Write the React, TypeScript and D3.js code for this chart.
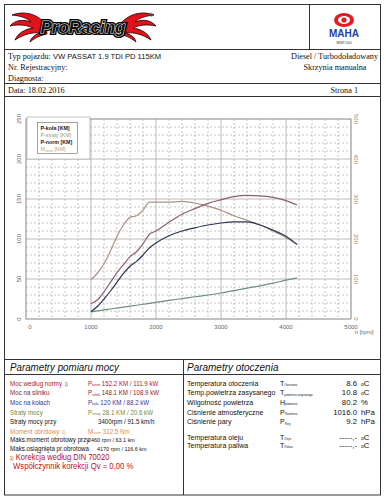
import * as d3 from "d3";

// rpm sample points and curves
const rpm = [1000, 1100, 1200, 1300, 1400, 1500, 1600, 1700, 1800, 1900, 2000, 2200, 2400, 2600, 2800, 3000, 3200, 3400, 3600, 3800, 4000, 4170];
const pKola = [9, 16, 25, 35, 46, 57, 66, 72, 80, 89, 95, 104, 110, 114, 117.5, 120, 121.5, 121.5, 117.5, 111, 103.5, 93];
const pStraty = [9, 10.2, 11.4, 12.5, 13.7, 14.9, 16, 17.2, 18.4, 19.6, 20.8, 23.2, 25.5, 27.8, 30, 32.5, 35.5, 38.5, 41.5, 44.8, 48.5, 51.5];
const pNorm = [19, 24, 34, 46, 58, 68, 78, 84, 94, 106, 110, 121, 131, 138, 144.5, 149, 153, 154.5, 154, 152, 148, 142.5];
const mNorm = [98, 115, 138, 170, 207, 235, 254, 258, 272, 292, 292, 292, 294, 290, 282, 272, 258, 247, 235, 220, 204, 187];

const xTicks = [0, 1000, 2000, 3000, 4000, 5000];
const yLeftTicks = [0, 50, 100, 150, 200, 250];
const yRightTicks = [0, 100, 200, 300, 400, 500];

const legendItems = [
  { label: "P-koła [KM]", color: "#222", bold: true },
  { label: "P-straty [KM]", color: "#8d9c78", bold: false },
  { label: "P-norm [KM]", color: "#222", bold: true },
  { label: "M", sub: "norm", tail: " [NM]", color: "#c2a47c", bold: false },
];

const powerRows = [
  { label: "Moc według normy", note: true, sym: "P", sub: "norm", value: "152.2 KM  /  111.9 kW", color: "#b7151f" },
  { label: "Moc na silniku", sym: "P", sub: "silnik", value: "148.1 KM  /  108.9 kW", color: "#8c1c2e" },
  { label: "Moc na kołach", sym: "P", sub: "koła", value: "120 KM  /  88.2 kW", color: "#2a3a96" },
  { label: "Straty mocy", sym: "P", sub: "straty", value: "28.1 KM  /  20.6 kW", color: "#6f8a3a" },
  { label: "Straty mocy przy", value: "3400rpm /  91.5 km/h", color: "#111", vx: 98 },
  { label: "Moment obrotowy", note: true, sym: "M", sub: "norm", value: "312.5 Nm", color: "#dd8c50" },
  { label: "Maks.moment obrotowy przy", value: "2460 rpm / 63.1 km", color: "#111", vx: 88, small: true },
  { label: "Maks.osiągnięta pr.obrotowa", value: "4170 rpm / 116.6 km", color: "#111", vx: 97, small: true },
];

const ambientRows = [
  { label: "Temperatura otoczenia", sym: "T", sub: "Otoczenia", value: "8.6", unit: "oC" },
  { label: "Temp.powietrza zasysanego", sym: "T", sub: "powietrza zasysanego", value: "10.8", unit: "oC" },
  { label: "Wilgotność powietrza", sym: "H", sub: "powietrza", value: "80.2", unit: "%" },
  { label: "Ciśnienie atmosferyczne", sym: "P", sub: "Powietrza", value: "1016.0", unit: "hPa" },
  { label: "Ciśnienie pary", sym: "P", sub: "Pary", value: "9.2", unit: "hPa" },
  { label: "Temperatura oleju", sym: "T", sub: "Oleju", value: "-----,-", unit: "oC" },
  { label: "Temperatura paliwa", sym: "T", sub: "Paliwa", value: "-----,-", unit: "oC" },
];

const SANS = "'Liberation Sans', Arial, sans-serif";
const SERIF = "'Liberation Serif', 'DejaVu Serif', serif";

const W = 386;
const H = 500;

const x = d3.scaleLinear().domain([0, 5000]).range([26, 351]);
const yL = d3.scaleLinear().domain([0, 250]).range([319, 119]);
const yR = d3.scaleLinear().domain([0, 500]).range([319, 119]);

// narrow text, the sheet uses a condensed office font
function NText({ x, y, sx = 0.84, children, ...rest }: any) {
  return (
    <text transform={`translate(${x},${y}) scale(${sx},1)`} {...rest}>
      {children}
    </text>
  );
}

function Flames() {
  const d =
    "M46,24 C38,15 26,10 12,15 C21,16 27,18 31,22 C23,19 15,20 10,26 C19,24 27,25 33,28 C25,29 18,33 15,40 C24,34 33,32 40,33 C34,35 31,38 30,42 C36,37 42,35 47,34 Z";
  return (
    <g>
      <path d={d} fill="#e3121a" stroke="#1a0000" strokeWidth={0.8} />
      <path d={d} fill="#e3121a" stroke="#1a0000" strokeWidth={0.8} transform="translate(166,0) scale(-1,1)" />
    </g>
  );
}

export default function App() {
  const mkLine = (vals: number[], scale: d3.ScaleLinear<number, number>) =>
    d3
      .line<number>()
      .x((_, i) => x(rpm[i]))
      .y((v) => scale(v))
      .curve(d3.curveMonotoneX)(vals) ?? "";

  const minorX = d3.range(0, 5001, 200);
  const minorY = d3.range(0, 251, 10);

  const rowY = [385.5, 395, 404.5, 414.5, 424, 433.5, 442, 450.5];
  const ambY = [385.5, 395, 404.5, 414.5, 424, 439.5, 447.5];

  return (
    <svg width={W} height={H} style={{ position: "absolute", left: 0, top: 0, background: "#fff" }} fontFamily={SANS}>
      <rect width={W} height={H} fill="#fff" />

      {/* page frame */}
      <g stroke="#333" strokeWidth={1} fill="none">
        <rect x={4.5} y={4.5} width={376} height={490.5} />
        <line x1={4.5} x2={380.5} y1={49.5} y2={49.5} />
        <line x1={309.5} x2={309.5} y1={4.5} y2={49.5} />
        <line x1={4.5} x2={380.5} y1={83.5} y2={83.5} />
        <line x1={4.5} x2={380.5} y1={96.5} y2={96.5} />
        <line x1={4.5} x2={380.5} y1={359.5} y2={359.5} />
        <line x1={4.5} x2={380.5} y1={374.5} y2={374.5} />
        <line x1={183.5} x2={183.5} y1={359.5} y2={495} />
      </g>

      {/* logos */}
      <Flames />
      <text x={83} y={33} textAnchor="middle" fontFamily={SANS} fontWeight="bold" fontStyle="italic" fontSize={17}
        stroke="#000" strokeWidth={4} fill="#000">ProRacing</text>
      <text x={83} y={33} textAnchor="middle" fontFamily={SANS} fontWeight="bold" fontStyle="italic" fontSize={17}
        stroke="#fff" strokeWidth={1} fill="#111" style={{ paintOrder: "stroke" }}>ProRacing</text>
      <text x={149} y={17} fontSize={6} fill="#555">®</text>

      <ellipse cx={344} cy={20} rx={10} ry={7} fill="#e31b23" />
      <ellipse cx={344} cy={20} rx={6} ry={4} fill="#fff" />
      <circle cx={344} cy={20} r={2.6} fill="#e31b23" />
      <text x={344} y={37} textAnchor="middle" fontWeight="bold" fontSize={10} fill="#1f3fa5">MAHA</text>
      <text x={344} y={44} textAnchor="middle" fontSize={3.6} fill="#333">MSR 500</text>

      {/* header info */}
      <g fontFamily={SERIF} fontSize={8.2} fill="#111">
        <text x={8} y={59}>Typ pojazdu:  <tspan fontFamily={SANS} fontSize={7.6}>VW PASSAT 1.9 TDI PD 115KM</tspan></text>
        <text x={8} y={70}>Nr. Rejestracyjny:</text>
        <text x={8} y={80.5}>Diagnosta:</text>
        <text x={378} y={59} textAnchor="end">Diesel / Turbodoładowany</text>
        <text x={335} y={70} textAnchor="middle">Skrzynia manualna</text>
        <text x={8} y={93}>Data: 18.02.2016</text>
        <text x={358} y={93} textAnchor="end">Strona 1</text>
      </g>

      {/* grid */}
      <g>
        {minorX.filter((v) => v % 1000 !== 0).map((v) => (
          <line key={"mx" + v} x1={x(v)} x2={x(v)} y1={yL(250)} y2={yL(0)} stroke="#9a9a9a" strokeWidth={0.6} strokeDasharray="2,2" />
        ))}
        {minorY.filter((v) => v % 50 !== 0).map((v) => (
          <line key={"my" + v} x1={x(0)} x2={x(5000)} y1={yL(v)} y2={yL(v)} stroke="#9a9a9a" strokeWidth={0.6} strokeDasharray="2,2" />
        ))}
        {xTicks.map((v) => (
          <line key={"Mx" + v} x1={x(v)} x2={x(v)} y1={yL(250)} y2={yL(0)} stroke="#a8a8a8" strokeWidth={0.8} />
        ))}
        {yLeftTicks.map((v) => (
          <line key={"My" + v} x1={x(0)} x2={x(5000)} y1={yL(v)} y2={yL(v)} stroke="#a8a8a8" strokeWidth={0.8} />
        ))}
        <rect x={x(0)} y={yL(250)} width={x(5000) - x(0)} height={yL(0) - yL(250)} fill="none" stroke="#999" strokeWidth={0.8} />
      </g>

      {/* axes labels */}
      <g fontSize={6} fill="#666">
        {yLeftTicks.map((v) => (
          <text key={"yl" + v} transform={`translate(21,${yL(v)}) rotate(-90)`} textAnchor="middle">{v}</text>
        ))}
        {xTicks.map((v) => (
          <text key={"xl" + v} x={x(v) + (v === 0 ? 4 : 0)} y={329} textAnchor="middle">{v}</text>
        ))}
        <text x={364} y={334} textAnchor="middle">n [rpm]</text>
      </g>
      <g fontSize={6} fill="#b08858">
        {yRightTicks.map((v) => (
          <text key={"yr" + v} transform={`translate(354,${yR(v)}) rotate(90)`} textAnchor="middle">{v}</text>
        ))}
      </g>

      {/* curves */}
      <path d={mkLine(pStraty, yL)} fill="none" stroke="#6f8f80" strokeWidth={1.2} />
      <path d={mkLine(mNorm, yR)} fill="none" stroke="#ae9186" strokeWidth={1.2} />
      <path d={mkLine(pNorm, yL)} fill="none" stroke="#8c5f6e" strokeWidth={1.2} />
      <path d={mkLine(pKola, yL)} fill="none" stroke="#2b3555" strokeWidth={1.2} />

      {/* legend */}
      <rect x={27} y={117} width={63} height={42} fill="#fff" stroke="#aaa" strokeWidth={0.7} />
      <rect x={37.5} y={122.5} width={40} height={31} fill="#fff" stroke="#666" strokeWidth={0.6} />
      {legendItems.map((it, i) => (
        <text key={it.label} x={40.5} y={130 + i * 7} fontSize={5.3} fill={it.color} fontWeight={it.bold ? "bold" : "normal"}>
          {it.label}
          {it.sub && <tspan fontSize={3.5} dy={0.8}>{it.sub}</tspan>}
          {it.tail && <tspan dy={-0.8}>{it.tail}</tspan>}
        </text>
      ))}

      {/* power panel */}
      <NText x={10} y={371} sx={0.93} fontSize={10.5} fontStyle="italic" fill="#111">Parametry pomiaru mocy</NText>
      {powerRows.map((r, i) => (
        <g key={r.label}>
          <NText x={10} y={rowY[i]} fontSize={7.4} fill={r.color}>
            {r.label}
            {r.note && <tspan fontSize={4.5} dx={3}>1)</tspan>}
          </NText>
          {r.sym ? (
            <NText x={88} y={rowY[i]} sx={0.88} fontSize={7} fill={r.color}>
              {r.sym}
              <tspan fontSize={4} dy={0.5}>{r.sub}</tspan>
              <tspan dy={-0.5} dx={2}>{r.value}</tspan>
            </NText>
          ) : (
            <NText x={r.vx} y={rowY[i]} sx={0.88} fontSize={r.small ? 6.2 : 7} fill={r.color}>{r.value}</NText>
          )}
        </g>
      ))}
      <NText x={10} y={459.5} sx={0.84} fontSize={9} fill="#c0101a"><tspan fontSize={5}>1)</tspan> Korekcja według DIN 70020</NText>
      <NText x={13} y={469} sx={0.86} fontSize={9} fill="#c0101a">Współczynnik korekcji Qv  =  0,00 %</NText>

      {/* ambient panel */}
      <NText x={187} y={371} sx={0.95} fontSize={10.5} fontStyle="italic" fill="#111">Parametry otoczenia</NText>
      {ambientRows.map((r, i) => (
        <g key={r.label} fontSize={7.8} fill="#111">
          <NText x={187} y={ambY[i]} sx={0.9}>{r.label}</NText>
          <NText x={280} y={ambY[i]} sx={0.9}>
            {r.sym}
            <tspan fontSize={3.2} dy={0.5}>{r.sub}</tspan>
          </NText>
          <text x={357} y={ambY[i]} textAnchor="end">{r.value}</text>
          <text x={361} y={ambY[i]}>
            {r.unit === "oC" ? (
              <>
                <tspan fontSize={5}>o</tspan>C
              </>
            ) : (
              r.unit
            )}
          </text>
        </g>
      ))}
    </svg>
  );
}
